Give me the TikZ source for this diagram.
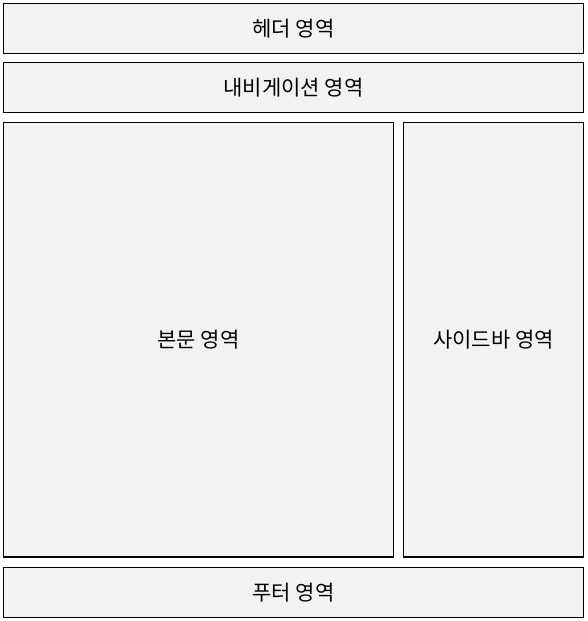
\documentclass[tikz,border=0pt]{standalone}
\usepackage{fontspec}
\newfontfamily\kofont{Noto Sans CJK KR}
\usetikzlibrary{positioning}
\definecolor{MyGray}{HTML}{F2F2F2}
\tikzset{every picture/.style={/utils/exec={\kofont}}}

\begin{document}
\begin{tikzpicture} [
			x=1pt, y=-1pt,
			every node/.style={draw,font=\fontsize{21}{24}\selectfont,align=center},
			area/.style={draw=black,line width=1.2pt,rectangle,fill=MyGray,inner sep=0pt,minimum height=50pt,minimum width=580pt}
		]
			\useasboundingbox (0,0) rectangle (588,621);
			\node at (293.5,28.5) [area] (nodeHeader) {헤더 영역};
			\node at (293.5,87.5) [area] (nodeNav) {내비게이션 영역};
			\node at (198.5,339.75) [area, minimum width=390pt, minimum height=434.5pt] (nodeMain) {본문 영역};
			\node at (493.5,339.75) [area, minimum width=180pt, minimum height=434.5pt] (nodeSide) {사이드바 영역};
			\node at (293.5,592.5) [area] (nodeFooter) {푸터 영역};
		\end{tikzpicture}
\end{document}
